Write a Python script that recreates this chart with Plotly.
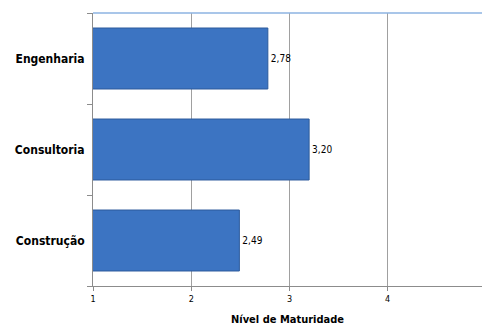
import plotly.graph_objects as go

categories = ["Engenharia", "Consultoria", "Construção"]
values = [2.78, 3.20, 2.49]
value_labels = ["2,78", "3,20", "2,49"]
x_ticks = [1, 2, 3, 4]

fig = go.Figure()
fig.add_trace(go.Bar(
    y=categories,
    x=values,
    orientation="h",
    width=0.67,
    marker=dict(color="#3c74c2", line=dict(color="#2c5a9c", width=1)),
    text=value_labels,
    textposition="outside",
    textfont=dict(family="DejaVu Sans Condensed, DejaVu Sans", size=10, color="#000000"),
    cliponaxis=True,
))

fig.update_layout(
    width=482, height=326,
    margin=dict(l=93, r=0, t=13, b=40),
    plot_bgcolor="white", paper_bgcolor="white",
    showlegend=False,
    font=dict(family="DejaVu Sans Condensed, DejaVu Sans", color="#000000"),
    xaxis=dict(
        range=[1, 4.96],
        tickvals=x_ticks,
        ticktext=[str(t) for t in x_ticks],
        tickfont=dict(size=9),
        showgrid=True, gridcolor="#a0a0a0", gridwidth=1,
        showline=True, linecolor="#8c8c8c", linewidth=1,
        ticks="outside", ticklen=4, tickcolor="#8c8c8c",
        zeroline=False,
        title=dict(text="<b>Nível de Maturidade</b>", font=dict(size=11), standoff=12),
    ),
    yaxis=dict(
        categoryorder="array", categoryarray=categories,
        autorange="reversed",
        tickfont=dict(size=12),
        ticklabelstandoff=5,
        showline=True, linecolor="#8c8c8c", linewidth=1,
        ticks="outside", ticklen=5, tickcolor="#8c8c8c",
        tickson="boundaries",
        showgrid=False,
    ),
    shapes=[dict(type="line", xref="paper", yref="paper", x0=0, x1=1, y0=1, y1=1,
                 line=dict(color="#8db3e2", width=1.5))],
)
fig.update_yaxes(ticktext=["<b>" + c + "</b>" for c in categories], tickvals=categories)

fig.write_html("out.html")
